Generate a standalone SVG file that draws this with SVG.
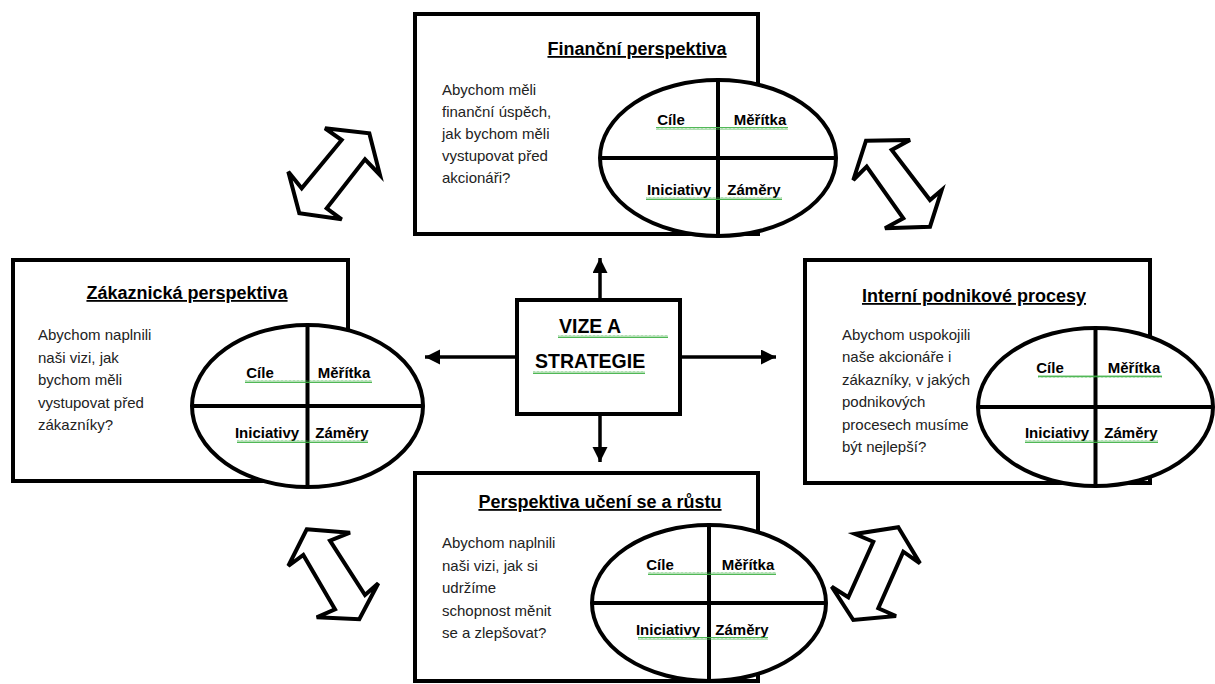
<svg xmlns="http://www.w3.org/2000/svg" width="1215" height="684" viewBox="0 0 1215 684">
  <style>
    .box { fill: #ffffff; stroke: #000000; stroke-width: 4; }
    .oval { fill: #ffffff; stroke: #000000; stroke-width: 4; }
    .cross { stroke: #000000; stroke-width: 4; }
    .title { font-family: "Liberation Sans", Arial, sans-serif; font-size: 18px; font-weight: bold; fill: #000; text-anchor: middle; text-decoration: underline; }
    .body { font-family: "Liberation Sans", Arial, sans-serif; font-size: 15px; fill: #222; }
    .cell { font-family: "Liberation Sans", Arial, sans-serif; font-size: 15px; font-weight: bold; fill: #000; text-anchor: middle; }
    .vision { font-family: "Liberation Sans", Arial, sans-serif; font-size: 19.5px; font-weight: bold; fill: #000; }
    .wave { fill: url(#squiggle); }
    .link { stroke: #000000; stroke-width: 3.5; fill: none; marker-end: url(#head); }
    .dbl { fill: #ffffff; stroke: #000000; stroke-width: 4; stroke-linejoin: miter; }
  </style>
  <defs>
    <pattern id="squiggle" patternUnits="userSpaceOnUse" width="4" height="3">
      <path d="M0,2.5 L1,0.5 L2,2.5 L3,0.5 L4,2.5" fill="none" stroke="#3cb043" stroke-width="0.9"/>
    </pattern>
    <marker id="head" markerUnits="userSpaceOnUse" markerWidth="16" markerHeight="16" refX="15" refY="7.5" orient="auto">
      <path d="M0,0 L15,7.5 L0,15 z" fill="#000"/>
    </marker>
  </defs>

  <rect width="1215" height="684" fill="#ffffff"/>

  <!-- links from the centre box and the block double arrows -->
  <g id="connectors">
    <line class="link" x1="600" y1="300" x2="600" y2="258"/>
    <line class="link" x1="517" y1="357" x2="425" y2="357"/>
    <line class="link" x1="680" y1="357" x2="776" y2="357"/>
    <line class="link" x1="600" y1="414" x2="600" y2="462"/>

    <polygon class="dbl" points="369.3,133.3 380,175 365,159.3 326.7,208.3 341.7,219.3 299.3,213.3 288.3,171.7 301.7,188.3 341.7,140 325,128.3"/>
    <polygon class="dbl" points="866,140.7 910,140 891.7,150 930,200 941.7,190 930,226.7 885,228.3 903.3,218.3 866.7,166.7 853.3,180"/>
    <polygon class="dbl" points="306.7,529.3 350,532.7 330,540.7 365,595 378.3,583.3 359.3,619.3 316.7,617.3 335,609.3 303.3,555 288.3,566"/>
    <polygon class="dbl" points="898.3,527.3 920,563.3 903.3,551.7 878.3,608.3 896,616 853.3,620 831.7,586.7 848.3,597.3 873.3,541.7 855,534"/>
  </g>

  <!-- centre: vision and strategy -->
  <g id="vision">
    <rect class="box" x="517" y="300" width="163" height="114"/>
    <text class="vision" x="559" y="333">VIZE  A</text>
    <text class="vision" x="535" y="368">STRATEGIE</text>
    <rect class="wave" x="558" y="335" width="110" height="3"/>
    <rect class="wave" x="533" y="371" width="112" height="3"/>
  </g>

  <!-- financial perspective -->
  <g id="financial">
    <rect class="box" x="415" y="14" width="343" height="220"/>
    <text class="title" x="637" y="55">Finanční perspektiva</text>
    <text class="body" x="442" y="95">Abychom měli</text>
    <text class="body" x="442" y="117">finanční úspěch,</text>
    <text class="body" x="442" y="139">jak bychom měli</text>
    <text class="body" x="442" y="161">vystupovat před</text>
    <text class="body" x="442" y="183">akcionáři?</text>
    <ellipse class="oval" cx="718" cy="158" rx="118" ry="78"/>
    <line class="cross" x1="718" y1="80" x2="718" y2="236"/>
    <line class="cross" x1="600" y1="158" x2="836" y2="158"/>
    <text class="cell" x="671" y="125">Cíle</text>
    <text class="cell" x="760" y="125">Měřítka</text>
    <text class="cell" x="679" y="195">Iniciativy</text>
    <text class="cell" x="754" y="195">Záměry</text>
    <rect class="wave" x="656" y="127" width="132" height="3"/>
    <rect class="wave" x="646" y="197" width="136" height="3"/>
  </g>

  <!-- customer perspective -->
  <g id="customer">
    <rect class="box" x="13" y="260" width="335" height="221"/>
    <text class="title" x="187" y="299">Zákaznická perspektiva</text>
    <text class="body" x="38" y="340">Abychom naplnili</text>
    <text class="body" x="38" y="362.5">naši vizi, jak</text>
    <text class="body" x="38" y="385">bychom měli</text>
    <text class="body" x="38" y="407.5">vystupovat před</text>
    <text class="body" x="38" y="430">zákazníky?</text>
    <ellipse class="oval" cx="307.5" cy="406" rx="115.5" ry="81"/>
    <line class="cross" x1="307.5" y1="325" x2="307.5" y2="487"/>
    <line class="cross" x1="192" y1="406" x2="423" y2="406"/>
    <text class="cell" x="260" y="378">Cíle</text>
    <text class="cell" x="344" y="378">Měřítka</text>
    <text class="cell" x="267" y="438">Iniciativy</text>
    <text class="cell" x="342" y="438">Záměry</text>
    <rect class="wave" x="245" y="380" width="127" height="3"/>
    <rect class="wave" x="237" y="440" width="131" height="3"/>
  </g>

  <!-- internal business processes -->
  <g id="internal">
    <rect class="box" x="805" y="260" width="345" height="223"/>
    <text class="title" x="974" y="302">Interní podnikové procesy</text>
    <text class="body" x="842" y="340">Abychom uspokojili</text>
    <text class="body" x="842" y="362.4">naše akcionáře i</text>
    <text class="body" x="842" y="384.8">zákazníky, v jakých</text>
    <text class="body" x="842" y="407.2">podnikových</text>
    <text class="body" x="842" y="429.6">procesech musíme</text>
    <text class="body" x="842" y="452">být nejlepší?</text>
    <ellipse class="oval" cx="1095.5" cy="407" rx="117.5" ry="79"/>
    <line class="cross" x1="1095.5" y1="328" x2="1095.5" y2="486"/>
    <line class="cross" x1="978" y1="407" x2="1213" y2="407"/>
    <text class="cell" x="1050" y="373">Cíle</text>
    <text class="cell" x="1134" y="373">Měřítka</text>
    <text class="cell" x="1057" y="438">Iniciativy</text>
    <text class="cell" x="1131" y="438">Záměry</text>
    <rect class="wave" x="1038" y="375" width="124" height="3"/>
    <rect class="wave" x="1025" y="440" width="133" height="3"/>
  </g>

  <!-- learning and growth perspective -->
  <g id="learning">
    <rect class="box" x="415" y="473" width="343" height="208"/>
    <text class="title" x="600" y="508">Perspektiva učení se a růstu</text>
    <text class="body" x="442" y="548">Abychom naplnili</text>
    <text class="body" x="442" y="570.5">naši vizi, jak si</text>
    <text class="body" x="442" y="593">udržíme</text>
    <text class="body" x="442" y="615.5">schopnost měnit</text>
    <text class="body" x="442" y="638">se a zlepšovat?</text>
    <ellipse class="oval" cx="709" cy="603" rx="117" ry="78"/>
    <line class="cross" x1="709" y1="525" x2="709" y2="681"/>
    <line class="cross" x1="592" y1="603" x2="826" y2="603"/>
    <text class="cell" x="660" y="570">Cíle</text>
    <text class="cell" x="748" y="570">Měřítka</text>
    <text class="cell" x="668" y="635">Iniciativy</text>
    <text class="cell" x="742" y="635">Záměry</text>
    <rect class="wave" x="648" y="572" width="128" height="3"/>
    <rect class="wave" x="638" y="637" width="130" height="3"/>
  </g>
</svg>
